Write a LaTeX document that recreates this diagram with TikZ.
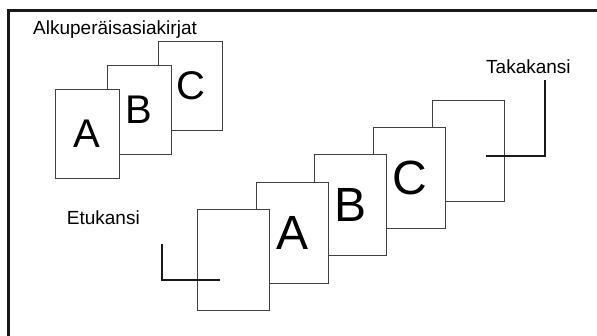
\documentclass[tikz,border=0pt]{standalone}
\usepackage{fontspec}
\setmainfont{Liberation Sans}
\begin{document}
\begin{tikzpicture}[x=1pt, y=-1pt,
    sheet/.style={draw=black!75, line width=0.9pt, fill=white, inner sep=0pt,
        minimum width=64pt, minimum height=89pt, font=\fontsize{40}{40}\selectfont},
    bigsheet/.style={sheet, minimum width=72pt, minimum height=101pt,
        font=\fontsize{48}{48}\selectfont},
    caption/.style={anchor=base west, inner sep=0pt, font=\fontsize{19}{19}\selectfont},
    covermark/.style={line width=2.2pt, black!90}]
    \useasboundingbox (0,0) rectangle (597,336);

    % Frame (runs off the right and bottom edges)
    \draw[line width=3pt, black!90] (8,345) -- (8,11) -- (610,11);

    % Original documents
    \node[caption] (orig) at (33,35) {Alkuperäisasiakirjat};
    \node[sheet] (c1) at (190.5,85.5) {C};
    \node[sheet] (b1) at (139,109.5) {B};
    \node[sheet] (a1) at (87,133.5) {A};

    % Bound stack, back cover first
    \foreach \i/\t in {4/,3/C,2/B,1/A,0/}
        \node[bigsheet] (s\i) at ({233.5+58.7*\i},{259.8-27.3*\i}) {\t};

    % Cover marks
    \node[caption] (front) at (66.7,224.3) {Etukansi};
    \draw[covermark] (161.7,244) -- (161.7,280) -- (220,280);
    \node[caption] (back) at (486,74) {Takakansi};
    \draw[covermark] (486,155.7) -- (545,155.7) -- (545,80);
\end{tikzpicture}
\end{document}
